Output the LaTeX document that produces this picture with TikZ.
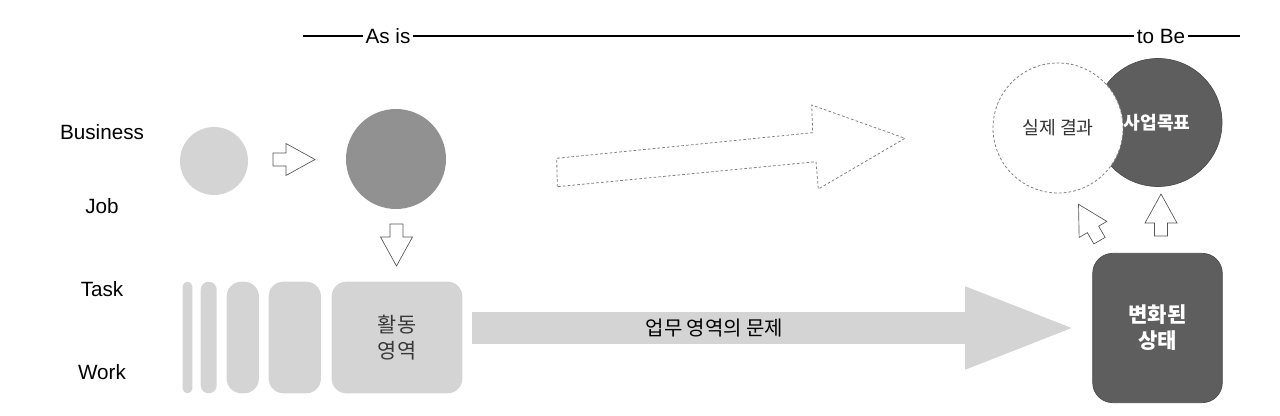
\documentclass[tikz,border=0pt]{standalone}
\usepackage{fontspec}
\setmainfont{Liberation Sans}
\newfontfamily\kr{Noto Sans CJK KR}
\usetikzlibrary{arrows.meta,calc}
\definecolor{lightg}{HTML}{D4D4D4}
\definecolor{midg}{HTML}{919191}
\definecolor{darkg}{HTML}{5E5E5E}
\definecolor{lineg}{HTML}{555555}
\tikzset{
layer/.style={font=\fontsize{15.5}{18}\selectfont,anchor=base},
bar/.style={fill=lightg,inner sep=0pt,minimum height=83.7pt},
timeline/.style={line width=0.8pt},
blocco/.style={draw=lineg,fill=white,line width=0.5pt,line join=miter},
tratteggio/.style={draw=gray,line width=0.6pt,dash pattern=on 2pt off 1.6pt},
freccia grande/.style={draw=lightg,line width=23.7pt,shorten <=6.8pt,shorten >=15.5pt,
  -{Triangle[length=80pt,width=62.7pt,line width=0pt]}},
blk/.pic={\path[blocco] (-21,-6.5) -- (-8,-6.5) -- (-8,-16) -- (21,0) -- (-8,16) -- (-8,6.5) -- (-21,6.5) -- cycle;}}

\begin{document}
\begin{tikzpicture}[x=0.75pt,y=-0.75pt]
\useasboundingbox (0,0) rectangle (1280,416);

\node[layer] (b) at (102,140) {Business};
\node[layer] (j) at (102,214) {Job};
\node[layer] (t) at (102,297) {Task};
\node[layer] (w) at (102,379) {Work};

\coordinate (l) at (303,36);
\coordinate (r) at (1240,36);
\node[layer,anchor=center,inner sep=2pt] (asis) at (388,36) {As is};
\node[layer,anchor=center,inner sep=2pt] (tobe) at (1161,36) {to Be};
\draw[timeline] (l) -- (asis) -- (tobe) -- (r);

\node[circle,fill=lightg,minimum size=51pt,inner sep=0pt] (c1) at (214,161) {};
\node[circle,fill=midg,minimum size=75pt,inner sep=0pt] (c2) at (396,159) {};

\node[bar,minimum width=7.2pt,rounded corners=3.6pt] (k1) at (187.5,337.5) {};
\node[bar,minimum width=12pt,rounded corners=6pt] (k2) at (208.7,337.5) {};
\node[bar,minimum width=24.2pt,rounded corners=11pt] (k3) at (242.8,337.5) {};
\node[bar,minimum width=39.2pt,rounded corners=11pt] (k4) at (294.8,337.5) {};
\node[bar,minimum width=98pt,rounded corners=11pt,align=center,text=black!78,
  font=\kr\fontsize{15.6}{20}\selectfont] (act) at (397,337.5) {활동\\영역};

\node[fill=darkg,draw=black!70,line width=0.5pt,rounded corners=15pt,minimum width=97.2pt,
  minimum height=112pt,align=center,text=white,
  font=\kr\bfseries\fontsize{15.8}{19.5}\selectfont] (state) at (1157.5,328) {변화된\\상태};

\draw[freccia grande] (act.east |- state.west) -- node[pos=0.4,text=black,
  font=\kr\fontsize{15}{17}\selectfont] (prob) {업무 영역의 문제} (state.west);

\draw[tratteggio] (557.3,186.7) -- (556.7,158.3) -- (812.7,132.7) -- (811.7,105)
  -- (905,138.3) -- (818.3,189) -- (816,161.7) -- cycle;

\node[circle,fill=darkg,draw=black!70,line width=0.5pt,minimum size=96pt,inner sep=0pt] (goal) at (1158,122.5) {};
\node[circle,fill=white,tratteggio,minimum size=97.5pt,inner sep=0pt,text=black!80,
  font=\kr\fontsize{13.7}{16}\selectfont] (res) at (1058,128) {실제 결과};
\node[text=white,font=\kr\bfseries\fontsize{13.6}{16}\selectfont] (gt) at (1157,123) {사업목표};

\pic at (294,159.5) {blk};
\pic[rotate=-90] at (396.5,245) {blk};
\pic[rotate=90] at (1161,215) {blk};
\pic[rotate=120] at (1089,222.5) {blk};

\end{tikzpicture}
\end{document}
